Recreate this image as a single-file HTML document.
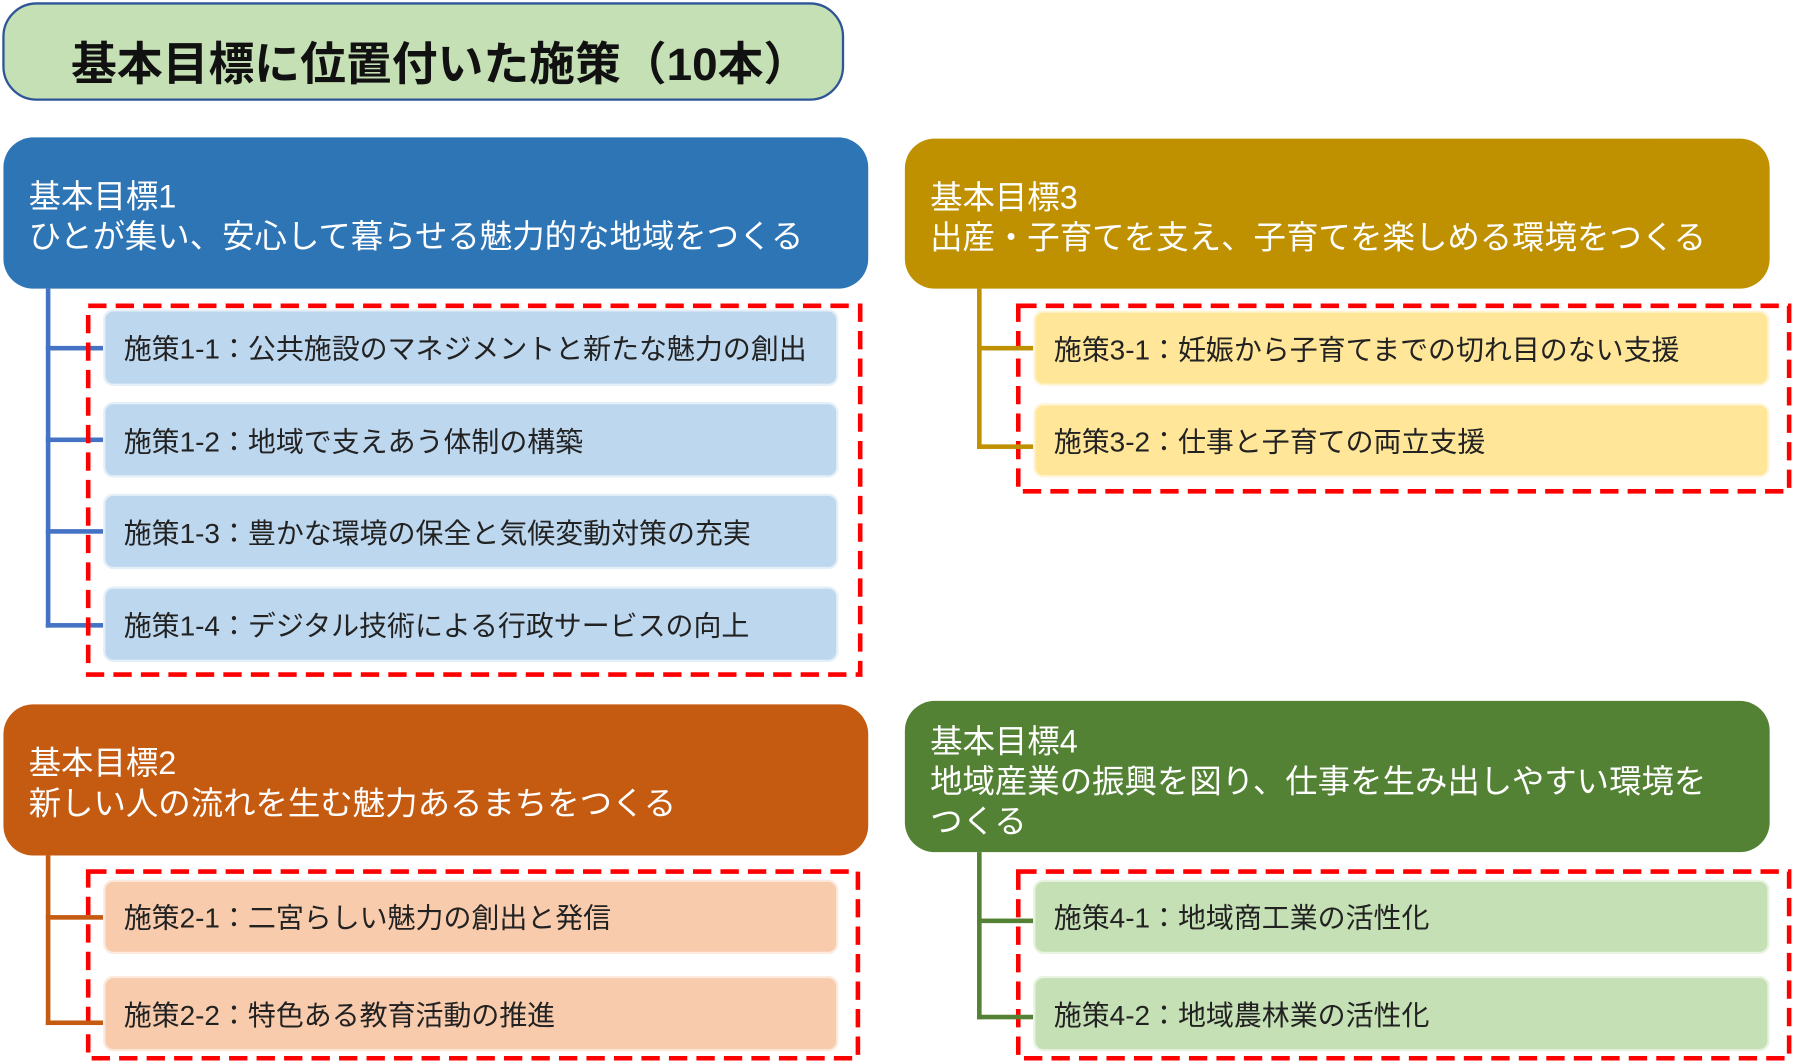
<!DOCTYPE html>
<html><head><meta charset="utf-8"><style>
html,body{margin:0;padding:0;background:#fff;}
body{width:1796px;height:1064px;overflow:hidden;position:relative;}
#w{position:absolute;left:0;top:0;width:1568px;height:929px;transform:scale(1.14541,1.14531);transform-origin:0 0;font-family:"Liberation Sans","Noto Sans CJK JP",sans-serif;}
.a{position:absolute;box-sizing:border-box;}
.h{color:#fff;font-size:28.3px;line-height:35px;padding:34px 0 0 22px;border-radius:26px;white-space:nowrap;}
.s{font-size:24.4px;color:#222;border-radius:9px;padding-left:16px;display:flex;align-items:center;border:2px solid rgba(255,255,255,0.6);white-space:nowrap;}
.l{position:absolute;}
svg.d{position:absolute;overflow:visible;}
</style></head><body><div id="w">
<div class="a" style="left:2px;top:2px;width:735px;height:86px;background:#c5e0b4;border:2px solid #2f5597;border-radius:30px;font-size:40px;font-weight:bold;color:#111;padding:20px 0 0 58px;">基本目標に位置付いた施策（10本）</div>

<!-- Goal 1 -->
<div class="a h" style="left:3px;top:120px;width:755px;height:132px;background:#2e75b6;">基本目標1<br>ひとが集い、安心して暮らせる魅力的な地域をつくる</div>
<div class="l" style="left:40px;top:252px;width:4px;height:296px;background:#4472c4"></div>
<div class="l" style="left:40px;top:302px;width:50px;height:4px;background:#4472c4"></div>
<div class="l" style="left:40px;top:382px;width:50px;height:4px;background:#4472c4"></div>
<div class="l" style="left:40px;top:462px;width:50px;height:4px;background:#4472c4"></div>
<div class="l" style="left:40px;top:544px;width:50px;height:4px;background:#4472c4"></div>
<svg class="d" style="left:0;top:0" width="1568" height="929"><g fill="none" stroke="#ff0000" stroke-width="4" stroke-dasharray="16 8">
<rect x="77" y="267" width="674" height="322"/>
<rect x="889" y="267" width="673" height="162"/>
<rect x="77" y="761" width="672" height="163"/>
<rect x="889" y="761" width="673" height="163"/>
</g></svg>
<div class="a s" style="left:90px;top:270px;width:642px;height:67px;background:#bdd7ee;">施策1-1：公共施設のマネジメントと新たな魅力の創出</div>
<div class="a s" style="left:90px;top:351px;width:642px;height:66px;background:#bdd7ee;">施策1-2：地域で支えあう体制の構築</div>
<div class="a s" style="left:90px;top:431px;width:642px;height:66px;background:#bdd7ee;">施策1-3：豊かな環境の保全と気候変動対策の充実</div>
<div class="a s" style="left:90px;top:512px;width:642px;height:66px;background:#bdd7ee;">施策1-4：デジタル技術による行政サービスの向上</div>

<!-- Goal 3 -->
<div class="a h" style="left:790px;top:121px;width:755px;height:131px;background:#bf9000;">基本目標3<br>出産・子育てを支え、子育てを楽しめる環境をつくる</div>
<div class="l" style="left:853px;top:252px;width:4px;height:140px;background:#bf9000"></div>
<div class="l" style="left:853px;top:302px;width:49px;height:4px;background:#bf9000"></div>
<div class="l" style="left:853px;top:388px;width:49px;height:4px;background:#bf9000"></div>
<div class="a s" style="left:902px;top:271px;width:643px;height:66px;background:#ffe699;">施策3-1：妊娠から子育てまでの切れ目のない支援</div>
<div class="a s" style="left:902px;top:352px;width:643px;height:65px;background:#ffe699;">施策3-2：仕事と子育ての両立支援</div>

<!-- Goal 2 -->
<div class="a h" style="left:3px;top:615px;width:755px;height:132px;background:#c55a11;">基本目標2<br>新しい人の流れを生む魅力あるまちをつくる</div>
<div class="l" style="left:40px;top:747px;width:4px;height:148px;background:#c55a11"></div>
<div class="l" style="left:40px;top:799px;width:50px;height:4px;background:#c55a11"></div>
<div class="l" style="left:40px;top:891px;width:50px;height:4px;background:#c55a11"></div>
<div class="a s" style="left:90px;top:768px;width:642px;height:65px;background:#f8cbad;">施策2-1：二宮らしい魅力の創出と発信</div>
<div class="a s" style="left:90px;top:852px;width:642px;height:66px;background:#f8cbad;">施策2-2：特色ある教育活動の推進</div>

<!-- Goal 4 -->
<div class="a h" style="left:790px;top:612px;width:755px;height:132px;background:#548235;padding-top:18px;">基本目標4<br>地域産業の振興を図り、仕事を生み出しやすい環境を<br>つくる</div>
<div class="l" style="left:853px;top:744px;width:4px;height:146px;background:#548235"></div>
<div class="l" style="left:853px;top:802px;width:49px;height:4px;background:#548235"></div>
<div class="l" style="left:853px;top:886px;width:49px;height:4px;background:#548235"></div>
<div class="a s" style="left:902px;top:768px;width:643px;height:65px;background:#c5e0b4;">施策4-1：地域商工業の活性化</div>
<div class="a s" style="left:902px;top:852px;width:643px;height:66px;background:#c5e0b4;">施策4-2：地域農林業の活性化</div>
</div></body></html>
